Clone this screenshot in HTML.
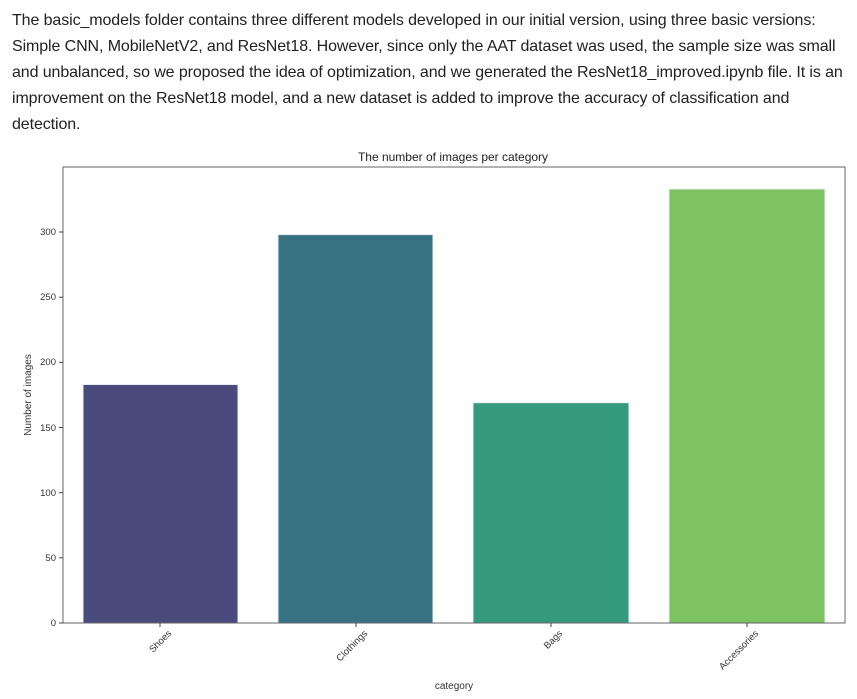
<!DOCTYPE html>
<html><head><meta charset="utf-8"><style>
body{margin:0;background:#fff;width:857px;height:699px;overflow:hidden;font-family:"Segoe UI","Liberation Sans",sans-serif;}
p{position:absolute;left:12px;top:8px;width:850px;margin:0;font-size:16px;line-height:26px;color:#212121;white-space:nowrap;letter-spacing:-0.1px}
svg{position:absolute;left:0;top:0}
</style></head><body>
<p>The basic_models folder contains three different models developed in our initial version, using three basic versions:<br>Simple CNN, MobileNetV2, and ResNet18. However, since only the AAT dataset was used, the sample size was small<br>and unbalanced, so we proposed the idea of optimization, and we generated the ResNet18_improved.ipynb file. It is an<br>improvement on the ResNet18 model, and a new dataset is added to improve the accuracy of classification and<br>detection.</p>
<svg width="857" height="699" font-family="Liberation Sans, sans-serif" fill="#333">
<text x="453" y="161" font-size="12" text-anchor="middle" fill="#222">The number of images per category</text>
<g stroke="#e8eef4" stroke-width="1">
<rect x="83" y="384.5" width="155" height="238.5" fill="#4b4a7d"/>
<rect x="278" y="234.6" width="155" height="388.4" fill="#377282"/>
<rect x="473" y="402.7" width="156" height="220.3" fill="#35997c"/>
<rect x="669" y="189" width="156" height="434" fill="#7dc363"/>
</g>
<rect x="63" y="167" width="782" height="456" fill="none" stroke="#666" stroke-width="1"/>
<g font-size="9.5" text-anchor="end">
<g stroke="#444"><line x1="59" x2="63" y1="623" y2="623"/><line x1="59" x2="63" y1="557.8" y2="557.8"/><line x1="59" x2="63" y1="492.7" y2="492.7"/><line x1="59" x2="63" y1="427.5" y2="427.5"/><line x1="59" x2="63" y1="362.3" y2="362.3"/><line x1="59" x2="63" y1="297.2" y2="297.2"/><line x1="59" x2="63" y1="232" y2="232"/>
<line x1="160" x2="160" y1="623" y2="627"/><line x1="356" x2="356" y1="623" y2="627"/><line x1="551" x2="551" y1="623" y2="627"/><line x1="747" x2="747" y1="623" y2="627"/></g>
<text x="56" y="626">0</text><text x="56" y="561">50</text><text x="56" y="496">100</text><text x="56" y="431">150</text><text x="56" y="365">200</text><text x="56" y="300">250</text><text x="56" y="235">300</text>
<text transform="translate(172,634) rotate(-45)">Shoes</text>
<text transform="translate(368,634) rotate(-45)">Clothings</text>
<text transform="translate(563,634) rotate(-45)">Bags</text>
<text transform="translate(759,634) rotate(-45)">Accessories</text>
</g>
<text x="454" y="689" font-size="10" text-anchor="middle">category</text>
<text transform="translate(31,395) rotate(-90)" font-size="10" text-anchor="middle">Number of images</text>
</svg>
</body></html>
